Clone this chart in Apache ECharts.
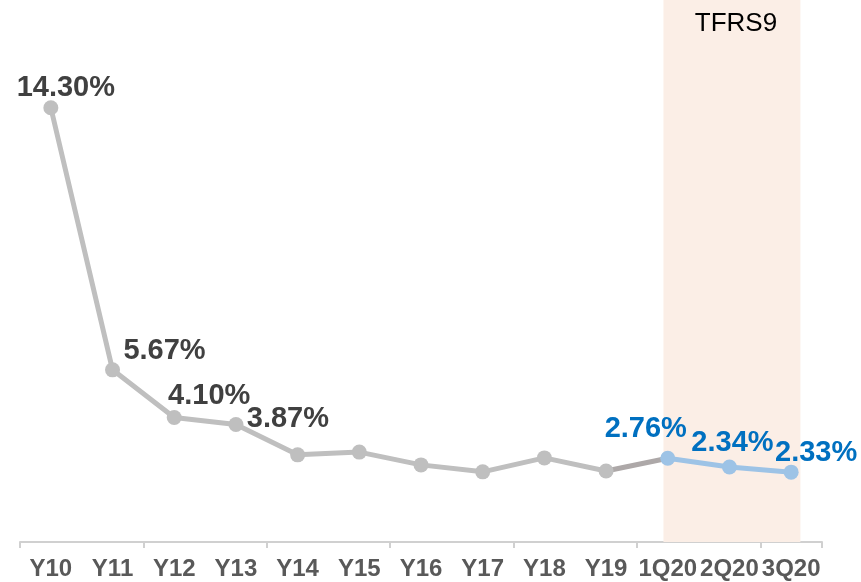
<!DOCTYPE html>
<html>
<head>
<meta charset="utf-8">
<script src="https://cdn.jsdelivr.net/npm/echarts@6/dist/echarts.min.js"></script>
<style>
  html, body { margin: 0; padding: 0; background: #fff; }
  #chart { width: 861px; height: 582px; }
</style>
</head>
<body>
<div id="chart"></div>
<script>
// data
const categories = ['Y10', 'Y11', 'Y12', 'Y13', 'Y14', 'Y15', 'Y16', 'Y17', 'Y18', 'Y19', '1Q20', '2Q20', '3Q20']
const values = [14.30, 5.67, 4.10, 3.87, 2.87, 2.96, 2.54, 2.31, 2.77, 2.34, 2.76, 2.47, 2.30]
const labelTexts = ['14.30%', '5.67%', '4.10%', '3.87%', '', '', '', '', '', '', '2.76%', '2.34%', '2.33%']
const bandTitle = 'TFRS9'
const splitIndex = 10 // 1Q20 onwards is TFRS9

let myChart = echarts.init(document.getElementById('chart'))

// label offsets (like the excel placement)
const labelOffsets = [[15, 7], [52, 8], [35, 5], [52, 22], null, null, null, null, null, null, [-22, -2], [3, 3], [25, 8]]

function labelFor(i, color) {
  if (!labelTexts[i]) return { show: false }
  return {
    show: true,
    position: 'top',
    offset: labelOffsets[i],
    formatter: labelTexts[i],
    color: color,
    fontSize: 29,
    fontWeight: 'bold',
    fontFamily: 'Liberation Sans, Arial, sans-serif'
  }
}

// gray part
const grayData = values.map(function (v, i) {
  if (i >= splitIndex) return null
  return { value: v, label: labelFor(i, '#404040') }
})
// link segment Y19 -> 1Q20
const linkData = values.map(function (v, i) {
  return (i === splitIndex - 1 || i === splitIndex) ? v : null
})
// blue part
const blueData = values.map(function (v, i) {
  if (i < splitIndex) return null
  return { value: v, label: labelFor(i, '#0070C0') }
})

let option = {
  animation: false,
  grid: {
    left: 20,
    right: 39,
    top: 0,
    bottom: 40
  },
  xAxis: [
    {
      type: 'category',
      data: categories,
      boundaryGap: true,
      axisLine: { lineStyle: { color: '#D0D0D0', width: 2 } },
      axisTick: { show: true, interval: 1, length: 6, lineStyle: { color: '#D0D0D0', width: 2 } },
      axisLabel: {
        interval: 0,
        color: '#595959',
        fontSize: 24,
        fontWeight: 'bold',
        fontFamily: 'Liberation Sans, Arial, sans-serif',
        margin: 15
      }
    },
    {
      // hidden helper axis for the shaded band
      type: 'value',
      min: -0.5,
      max: 12.5,
      show: false
    }
  ],
  yAxis: {
    type: 'value',
    min: 0,
    max: 17.85,
    show: false,
    splitLine: { show: false }
  },
  series: [
    {
      name: 'band',
      type: 'line',
      xAxisIndex: 1,
      data: [],
      markArea: {
        silent: true,
        itemStyle: { color: '#FBEEE6' },
        label: {
          show: true,
          position: 'insideTop',
          distance: 11,
          offset: [4, 0],
          formatter: bandTitle,
          color: '#000',
          fontSize: 26,
          fontFamily: 'Liberation Sans, Arial, sans-serif'
        },
        data: [[{ xAxis: 9.93 }, { xAxis: 12.15 }]]
      }
    },
    {
      name: 'link',
      type: 'line',
      data: linkData,
      showSymbol: false,
      symbol: 'none',
      lineStyle: { color: '#ADA8A8', width: 5 }
    },
    {
      name: 'old',
      type: 'line',
      data: grayData,
      symbol: 'circle',
      symbolSize: 15,
      itemStyle: { color: '#BFBFBF' },
      lineStyle: { color: '#BFBFBF', width: 5 }
    },
    {
      name: 'tfrs9',
      type: 'line',
      data: blueData,
      symbol: 'circle',
      symbolSize: 15,
      itemStyle: { color: '#9DC3E6' },
      lineStyle: { color: '#9DC3E6', width: 5 }
    }
  ]
}
myChart.setOption(option)
window.addEventListener('resize', function () {
  myChart.resize()
})
</script>
</body>
</html>
